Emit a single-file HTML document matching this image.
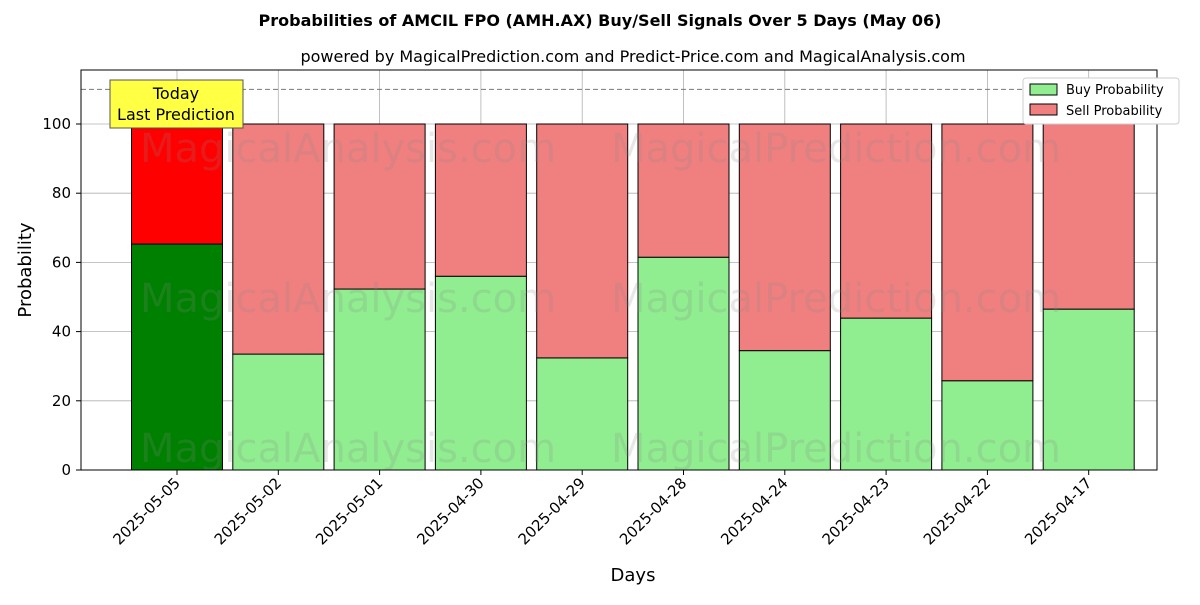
<!DOCTYPE html>
<html><head><meta charset="utf-8"><style>
body{margin:0;background:#fff;font-family:"Liberation Sans","DejaVu Sans",sans-serif}
</style></head><body>
<svg id="chart" width="1200" height="600" xmlns="http://www.w3.org/2000/svg" font-family="DejaVu Sans, Liberation Sans, sans-serif">
<text x="600" y="26" text-anchor="middle" font-size="16" font-weight="bold">Probabilities of AMCIL FPO (AMH.AX) Buy/Sell Signals Over 5 Days (May 06)</text>
<text x="633" y="62" text-anchor="middle" font-size="16">powered by MagicalPrediction.com and Predict-Price.com and MagicalAnalysis.com</text>
<g id="grid"></g>
<g id="bars"></g>
<g fill="#888" fill-opacity="0.2" font-size="40">
<text x="348" y="162" text-anchor="middle">MagicalAnalysis.com</text>
<text x="836" y="162" text-anchor="middle">MagicalPrediction.com</text>
<text x="348" y="312" text-anchor="middle">MagicalAnalysis.com</text>
<text x="836" y="312" text-anchor="middle">MagicalPrediction.com</text>
<text x="348" y="462" text-anchor="middle">MagicalAnalysis.com</text>
<text x="836" y="462" text-anchor="middle">MagicalPrediction.com</text>
</g>
<line x1="81" x2="1157" y1="89.4" y2="89.4" stroke="#777" stroke-dasharray="5,3"/>
<rect x="81" y="70" width="1076" height="400" fill="none" stroke="#000"/>
<g id="axes"></g>
<g>
<rect x="110" y="80" width="133" height="48" fill="#ffff44" stroke="#555"/>
<text x="176" y="99" text-anchor="middle" font-size="16">Today</text>
<text x="176" y="120" text-anchor="middle" font-size="16">Last Prediction</text>
</g>
<g>
<rect x="1023" y="78" width="156" height="46" fill="#fff" stroke="#ccc" rx="3"/>
<rect x="1030" y="84" width="27" height="11" fill="lightgreen" stroke="#000"/>
<text x="1066" y="94" font-size="13">Buy Probability</text>
<rect x="1030" y="104" width="27" height="11" fill="lightcoral" stroke="#000"/>
<text x="1066" y="115" font-size="13">Sell Probability</text>
</g>
<text x="633" y="581" text-anchor="middle" font-size="18">Days</text>
<text transform="translate(31,270) rotate(-90)" text-anchor="middle" font-size="18">Probability</text>
</svg>
<script>
const categories=["2025-05-05","2025-05-02","2025-05-01","2025-04-30","2025-04-29","2025-04-28","2025-04-24","2025-04-23","2025-04-22","2025-04-17"];
const buyValues=[65.3,33.5,52.3,56.0,32.4,61.5,34.5,43.9,25.8,46.5];
const sellValues=buyValues.map(v=>100-v);
const yTicks=[0,20,40,60,80,100];
const NS="http://www.w3.org/2000/svg";
const y=v=>470-v*3.46;
const x=i=>177+101.3*i;
const bw=91;
function mk(tag,attrs,parent){const e=document.createElementNS(NS,tag);for(const k in attrs)e.setAttribute(k,attrs[k]);document.getElementById(parent).appendChild(e);return e;}
yTicks.forEach(t=>{
 const g=mk('line',{x1:81,x2:1157,y1:y(t),y2:y(t),stroke:'#b0b0b0','stroke-width':0.8},'grid');
 
 
 const tk=mk('line',{x1:76,x2:81,y1:y(t),y2:y(t),stroke:'#000'},'axes');
 
 
 const l=mk('text',{x:71,y:y(t)+5,'text-anchor':'end','font-size':15},'axes');
 l.textContent=t;
 
 
});
categories.forEach((c,i)=>{
 const g=mk('line',{x1:x(i),x2:x(i),y1:70,y2:470,stroke:'#b0b0b0','stroke-width':0.8},'grid');
 
 
 const b=mk('rect',{x:x(i)-bw/2,y:y(buyValues[i]),width:bw,height:y(0)-y(buyValues[i]),fill:i==0?'green':'lightgreen',stroke:'#000'},'bars');
 
 
 const s=mk('rect',{x:x(i)-bw/2,y:y(100),width:bw,height:y(buyValues[i])-y(100),fill:i==0?'red':'lightcoral',stroke:'#000'},'bars');
 
 
 const tk=mk('line',{x1:x(i),x2:x(i),y1:470,y2:475,stroke:'#000'},'axes');
 
 
 const l=mk('text',{x:x(i)+4,y:484,'text-anchor':'end','font-size':15,transform:`rotate(-45 ${x(i)+4} 484)`},'axes');
 l.textContent=c;
 
 
});
</script>
</body></html>
